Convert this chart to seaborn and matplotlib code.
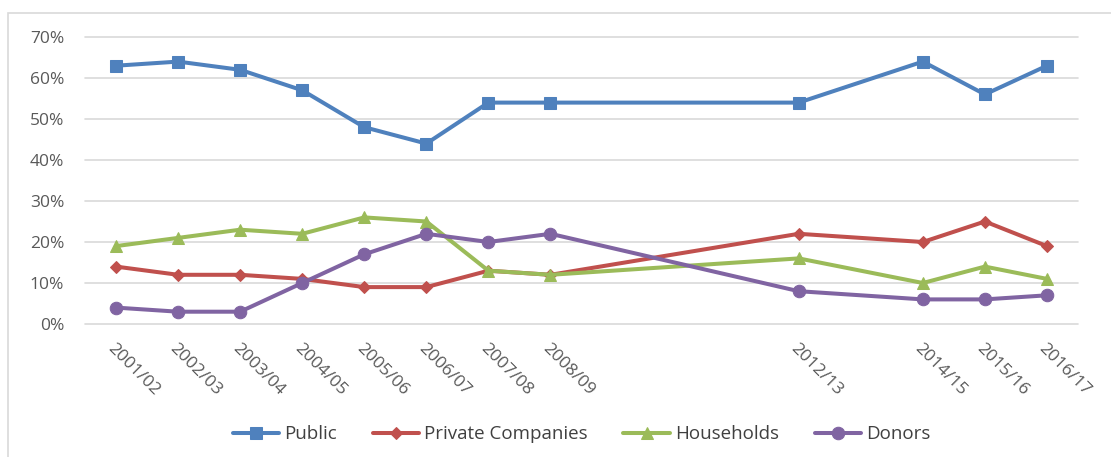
import pandas as pd
import matplotlib.pyplot as plt
from matplotlib.patches import Rectangle
from matplotlib.ticker import PercentFormatter
import seaborn as sns

years = [2001, 2002, 2003, 2004, 2005, 2006, 2007, 2008, 2012, 2014, 2015, 2016]
year_labels = ["2001/02", "2002/03", "2003/04", "2004/05", "2005/06", "2006/07",
               "2007/08", "2008/09", "2012/13", "2014/15", "2015/16", "2016/17"]
public = [63, 64, 62, 57, 48, 44, 54, 54, 54, 64, 56, 63]
private = [14, 12, 12, 11, 9, 9, 13, 12, 22, 20, 25, 19]
households = [19, 21, 23, 22, 26, 25, 13, 12, 16, 10, 14, 11]
donors = [4, 3, 3, 10, 17, 22, 20, 22, 8, 6, 6, 7]

series = {"Public": public, "Private Companies": private,
          "Households": households, "Donors": donors}
colors = {"Public": "#4F81BD", "Private Companies": "#C0504D",
          "Households": "#9BBB59", "Donors": "#8064A2"}
markers = {"Public": "s", "Private Companies": "D",
           "Households": "^", "Donors": "o"}
msizes = {"Public": 9, "Private Companies": 6, "Households": 8, "Donors": 9}

rows = []
for name, vals in series.items():
    for y, v in zip(years, vals):
        rows.append({"year": y, "share": v, "source": name})
df = pd.DataFrame(rows)

sns.set_style("white")
plt.rcParams["font.family"] = ["Open Sans", "DejaVu Sans"]

fig = plt.figure(figsize=(11.11, 4.57), dpi=100)
ax = fig.add_axes([85 / 1111, 133 / 457, 993 / 1111, 287 / 457])

for name in series:
    sub = df[df["source"] == name]
    sns.lineplot(data=sub, x="year", y="share", ax=ax, color=colors[name],
                 marker=markers[name], markersize=msizes[name],
                 markeredgecolor=colors[name], linewidth=2.9, label=name)

ax.set_xlim(2000.5, 2016.5)
ax.set_ylim(0, 70)
ax.set_yticks(range(0, 71, 10))
ax.yaxis.set_major_formatter(PercentFormatter(decimals=0))
ax.set_xticks(years)
ax.set_xticklabels(year_labels, rotation=-45, ha="left", va="top",
                   rotation_mode="anchor")
ax.tick_params(axis="both", labelsize=12.5, labelcolor="#595959", length=0)
ax.tick_params(axis="x", pad=12)
ax.tick_params(axis="y", pad=15)
ax.grid(axis="y", color="#D9D9D9", linewidth=1.2)
for gl in ax.get_ygridlines():
    gl.set_clip_on(False)
ax.set_axisbelow(True)
for s in ax.spines.values():
    s.set_visible(False)
ax.set_xlabel("")
ax.set_ylabel("")

ax.legend(loc="center", bbox_to_anchor=(0.5, -0.385), ncol=4, frameon=False,
          fontsize=13.5, labelcolor="#404040", handlelength=2.5,
          handletextpad=0.25, columnspacing=1.9)

fig.patches.append(Rectangle((8 / 1111, -0.1), 1.1, 1.1 - 13 / 457,
                             transform=fig.transFigure, fill=False,
                             edgecolor="#D9D9D9", linewidth=1.2))

fig.savefig("out.png", dpi=100)
